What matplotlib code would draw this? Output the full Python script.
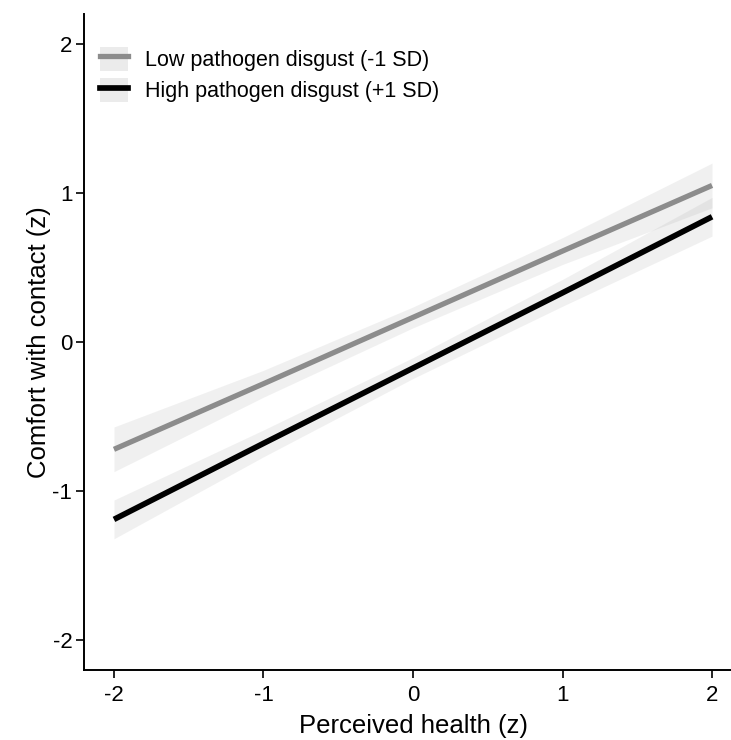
import numpy as np
import matplotlib.pyplot as plt
from matplotlib.lines import Line2D
from matplotlib.patches import Patch
from matplotlib.legend_handler import HandlerTuple

plt.rcParams['font.family'] = ['Liberation Sans', 'DejaVu Sans']

# predicted values
health = [-2, -1, 0, 1, 2]
low_fit = [-0.72, -0.28, 0.165, 0.61, 1.05]
low_lo = [-0.87, -0.37, 0.095, 0.52, 0.90]
low_hi = [-0.57, -0.19, 0.235, 0.70, 1.20]
high_fit = [-1.19, -0.68, -0.175, 0.33, 0.84]
high_lo = [-1.32, -0.77, -0.245, 0.24, 0.71]
high_hi = [-1.06, -0.59, -0.105, 0.42, 0.97]

labels = ['Low pathogen disgust (-1 SD)', 'High pathogen disgust (+1 SD)']
colors = ['#8c8c8c', '#000000']

fig = plt.figure(figsize=(7.31, 7.40), dpi=100)
ax = fig.add_axes([0.115, 0.0946, 0.900, 0.8865])

ax.fill_between(health, low_lo, low_hi, color='#999999', alpha=0.14, lw=0)
ax.fill_between(health, high_lo, high_hi, color='#999999', alpha=0.14, lw=0)
ax.plot(health, low_fit, color=colors[0], lw=3.8, solid_capstyle='butt')
ax.plot(health, high_fit, color=colors[1], lw=4.1, solid_capstyle='butt')

ax.set_xlim(-2.2, 2.2)
ax.set_ylim(-2.2, 2.2)
ax.set_xticks([-2, -1, 0, 1, 2])
ax.set_yticks([-2, -1, 0, 1, 2])
ax.set_xticklabels(['-2', '-1', '0', '1', '2'])
ax.set_yticklabels(['-2', '-1', '0', '1', '2'])
ax.tick_params(labelsize=16, length=5.5, width=1.2, colors='black')
ax.tick_params(axis='x', pad=5)
ax.tick_params(axis='y', pad=3)
for s in ['top', 'right']:
    ax.spines[s].set_visible(False)
for s in ['left', 'bottom']:
    ax.spines[s].set_linewidth(1.4)
ax.set_xlabel('Perceived health (z)', fontsize=18.5, labelpad=6)
ax.set_ylabel('Comfort with contact (z)', fontsize=18.5, labelpad=1)

h1 = (Patch(facecolor='#ebebeb', edgecolor='none'), Line2D([], [], color=colors[0], lw=3.8))
h2 = (Patch(facecolor='#ebebeb', edgecolor='none'), Line2D([], [], color=colors[1], lw=4.1))
ax.legend([h1, h2], labels, handler_map={tuple: HandlerTuple(ndivide=1)},
          loc='upper left', bbox_to_anchor=(0.0243, 0.950), frameon=False,
          fontsize=15.5, handlelength=1.3, handleheight=1.35, handletextpad=0.8,
          labelspacing=0.32, borderpad=0, borderaxespad=0)

fig.savefig('out.png', dpi=100)
